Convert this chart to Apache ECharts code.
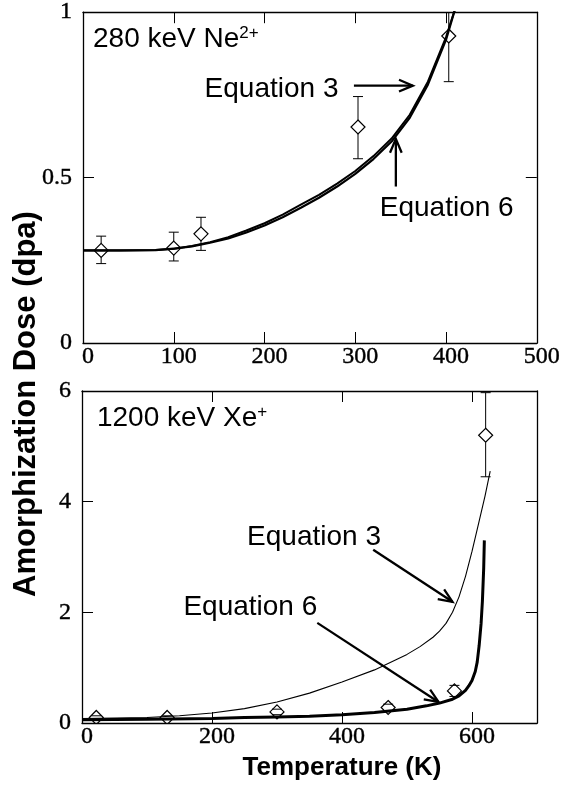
<!DOCTYPE html>
<html>
<head>
<meta charset="utf-8">
<script src="https://cdn.jsdelivr.net/npm/echarts@6/dist/echarts.min.js"></script>
<style>
html, body { margin: 0; padding: 0; background: #fff; }
#chart { width: 563px; height: 789px; }
</style>
</head>
<body>
<div id="chart"></div>
<script>
// top panel: 280 keV Ne2+
var neTemp = [20, 100, 130, 303, 403];
var neDose = [0.28, 0.287, 0.33, 0.653, 0.928];
var neLow = [0.24, 0.248, 0.28, 0.557, 0.79];
var neHigh = [0.323, 0.335, 0.38, 0.745, 1.07];

var neEq3Temp = [0, 40, 80, 100, 120, 140, 160, 180, 200, 220, 240, 260, 280, 300, 320, 340, 360, 380, 400, 410];
var neEq3Dose = [0.28, 0.28, 0.281, 0.285, 0.293, 0.305, 0.32, 0.34, 0.362, 0.388, 0.418, 0.448, 0.482, 0.52, 0.565, 0.618, 0.69, 0.79, 0.925, 1.01];
var neEq6Temp = [0, 40, 80, 100, 120, 140, 160, 180, 200, 220, 240, 260, 280, 300, 320, 340, 360, 380, 400, 410];
var neEq6Dose = [0.28, 0.28, 0.281, 0.285, 0.292, 0.303, 0.316, 0.334, 0.355, 0.38, 0.409, 0.439, 0.473, 0.511, 0.556, 0.609, 0.681, 0.781, 0.917, 1.01];

// bottom panel: 1200 keV Xe+
var xeTemp = [22, 131, 300, 471, 573, 621];
var xeDose = [0.1, 0.1, 0.2, 0.28, 0.58, 5.2];
var xeLow = [0.07, 0.07, 0.15, 0.22, 0.48, 4.45];
var xeHigh = [0.13, 0.13, 0.25, 0.34, 0.68, 5.97];

var xeEq3Temp = [0, 50, 100, 150, 200, 250, 300, 350, 400, 450, 500, 520, 540, 550, 560, 570, 580, 590, 600, 610, 620, 628];
var xeEq3Dose = [0.08, 0.09, 0.1, 0.13, 0.18, 0.26, 0.38, 0.54, 0.74, 0.96, 1.24, 1.38, 1.55, 1.66, 1.8, 2.0, 2.28, 2.65, 3.1, 3.6, 4.1, 4.55];
var xeEq6Temp = [0, 100, 200, 250, 300, 350, 400, 450, 500, 530, 550, 570, 580, 590, 595, 600, 605, 608, 611, 614, 616, 618, 619];
var xeEq6Dose = [0.06, 0.07, 0.08, 0.1, 0.11, 0.12, 0.15, 0.19, 0.25, 0.31, 0.36, 0.43, 0.49, 0.59, 0.67, 0.77, 0.93, 1.1, 1.4, 1.8, 2.2, 2.8, 3.3];

// annotations (data coords)
var neNoteText = ['{m|280 keV Ne}{s|2+}', 'Equation 3', 'Equation 6'];
var neNoteTemp = [11, 134, 327];
var neNoteDose = [0.919, 0.766, 0.407];
var xeNoteText = ['{m|1200 keV Xe}{s|+}', 'Equation 3', 'Equation 6'];
var xeNoteTemp = [23, 254, 156];
var xeNoteDose = [5.51, 3.36, 2.10];

// arrows [fromT, fromD, toT, toD]
var neArrows = [[298.5, 0.778, 363.4, 0.778], [344.7, 0.473, 344.7, 0.617]];
var xeArrows = [[448, 3.13, 570, 2.19], [362, 1.81, 548.5, 0.38]];

function zip(a, b) {
    var out = [];
    for (var i = 0; i < a.length; i++) out.push([a[i], b[i]]);
    return out;
}
function zip4(a, b, c, d) {
    var out = [];
    for (var i = 0; i < a.length; i++) out.push([a[i], b[i], c[i], d[i]]);
    return out;
}

var serif = 'Liberation Serif';
var sans = 'Liberation Sans';

function xAxis(grid, max, interval, pos) {
    var bottom = pos === 'bottom';
    return {
        type: 'value', gridIndex: grid, min: 0, max: max, interval: interval, position: pos,
        axisLine: { show: true, onZero: false, lineStyle: { color: '#000', width: 1.3 } },
        axisTick: { show: true, inside: true, length: 11, lineStyle: { color: '#000', width: 1 } },
        axisLabel: { show: bottom, color: '#000', fontFamily: serif, fontSize: 24, margin: 2,
            textBorderColor: '#000', textBorderWidth: 0.4,
            padding: [0, 0, 0, 10], showMaxLabel: max === 500 },
        splitLine: { show: false }
    };
}
function yAxis(grid, max, interval, pos) {
    var left = pos === 'left';
    return {
        type: 'value', gridIndex: grid, min: 0, max: max, interval: interval, position: pos,
        axisLine: { show: true, onZero: false, lineStyle: { color: '#000', width: 1.3 } },
        axisTick: { show: true, inside: true, length: 11, lineStyle: { color: '#000', width: 1 } },
        axisLabel: { show: left, color: '#000', fontFamily: serif, fontSize: 24, margin: 11,
            textBorderColor: '#000', textBorderWidth: 0.4,
            padding: [9, 0, 0, 0] },
        splitLine: { show: false }
    };
}

function renderPoint(params, api) {
    var c = api.coord([api.value(0), api.value(1)]);
    var lo = api.coord([api.value(0), api.value(2)]);
    var hi = api.coord([api.value(0), api.value(3)]);
    var s = 7, cap = 5;
    var st = { stroke: '#000', lineWidth: 1 };
    var kids = [];
    if (lo[1] > c[1] + s) kids.push({ type: 'line', shape: { x1: c[0], y1: c[1] + s, x2: lo[0], y2: lo[1] }, style: st });
    if (hi[1] < c[1] - s) kids.push({ type: 'line', shape: { x1: c[0], y1: c[1] - s, x2: hi[0], y2: hi[1] }, style: st });
    kids.push({ type: 'line', shape: { x1: lo[0] - cap, y1: lo[1], x2: lo[0] + cap, y2: lo[1] }, style: st });
    kids.push({ type: 'line', shape: { x1: hi[0] - cap, y1: hi[1], x2: hi[0] + cap, y2: hi[1] }, style: st });
    kids.push({ type: 'polygon', shape: { points: [[c[0], c[1] - s], [c[0] + s, c[1]], [c[0], c[1] + s], [c[0] - s, c[1]]] },
        style: { fill: 'none', stroke: '#000', lineWidth: 1.2 } });
    return { type: 'group', children: kids };
}

function renderArrow(params, api) {
    var a = api.coord([api.value(0), api.value(1)]);
    var b = api.coord([api.value(2), api.value(3)]);
    var ang = Math.atan2(b[1] - a[1], b[0] - a[0]);
    var L = 15, h = 0.4;
    var p1 = [b[0] - L * Math.cos(ang - h), b[1] - L * Math.sin(ang - h)];
    var p2 = [b[0] - L * Math.cos(ang + h), b[1] - L * Math.sin(ang + h)];
    var st = { stroke: '#000', lineWidth: 2.3, fill: 'none' };
    return { type: 'group', children: [
        { type: 'line', shape: { x1: a[0], y1: a[1], x2: b[0], y2: b[1] }, style: st },
        { type: 'polyline', shape: { points: [p1, b, p2] }, style: st }
    ] };
}

function noteRenderer(texts) {
    return function (params, api) {
        var p = api.coord([api.value(0), api.value(1)]);
        return {
            type: 'text', x: p[0], y: p[1],
            style: {
                text: texts[params.dataIndex], fill: '#000',
                fontFamily: sans, fontSize: 28, align: 'left', verticalAlign: 'middle',
                rich: {
                    m: { fontFamily: sans, fontSize: 28, fill: '#000' },
                    s: { fontFamily: sans, fontSize: 17, fill: '#000', verticalAlign: 'top' }
                }
            }
        };
    };
}

var chart = echarts.init(document.getElementById('chart'));
chart.setOption({
    animation: false,
    backgroundColor: '#fff',
    grid: [
        { left: 83, top: 9, width: 454, height: 334 },
        { left: 82, top: 391, width: 455, height: 332 }
    ],
    xAxis: [
        xAxis(0, 500, 100, 'bottom'), xAxis(0, 500, 100, 'top'),
        xAxis(1, 700, 200, 'bottom'), xAxis(1, 700, 200, 'top')
    ],
    yAxis: [
        yAxis(0, 1, 0.5, 'left'), yAxis(0, 1, 0.5, 'right'),
        yAxis(1, 6, 2, 'left'), yAxis(1, 6, 2, 'right')
    ],
    graphic: [
        { type: 'text', x: 26, y: 404, rotation: Math.PI / 2,
          style: { text: 'Amorphization Dose (dpa)', font: 'bold 31px ' + sans, fill: '#000', align: 'center', verticalAlign: 'middle' } },
        { type: 'text', x: 342, y: 768,
          style: { text: 'Temperature (K)', font: 'bold 26px ' + sans, fill: '#000', align: 'center', verticalAlign: 'middle' } }
    ],
    series: [
        { type: 'line', name: 'Equation 3', xAxisIndex: 0, yAxisIndex: 0, data: zip(neEq3Temp, neEq3Dose),
          showSymbol: false, lineStyle: { color: '#000', width: 2 } },
        { type: 'line', name: 'Equation 6', xAxisIndex: 0, yAxisIndex: 0, data: zip(neEq6Temp, neEq6Dose),
          showSymbol: false, lineStyle: { color: '#000', width: 2.2 } },
        { type: 'custom', xAxisIndex: 0, yAxisIndex: 0, clip: true, renderItem: renderPoint,
          data: zip4(neTemp, neDose, neLow, neHigh) },
        { type: 'custom', xAxisIndex: 0, yAxisIndex: 0, renderItem: renderArrow, data: neArrows },
        { type: 'custom', xAxisIndex: 0, yAxisIndex: 0, renderItem: noteRenderer(neNoteText),
          data: zip(neNoteTemp, neNoteDose) },

        { type: 'line', name: 'Equation 3', xAxisIndex: 2, yAxisIndex: 2, data: zip(xeEq3Temp, xeEq3Dose),
          showSymbol: false, lineStyle: { color: '#000', width: 1.1 } },
        { type: 'line', name: 'Equation 6', xAxisIndex: 2, yAxisIndex: 2, data: zip(xeEq6Temp, xeEq6Dose),
          showSymbol: false, lineStyle: { color: '#000', width: 3 } },
        { type: 'custom', xAxisIndex: 2, yAxisIndex: 2, clip: true, renderItem: renderPoint,
          data: zip4(xeTemp, xeDose, xeLow, xeHigh) },
        { type: 'custom', xAxisIndex: 2, yAxisIndex: 2, renderItem: renderArrow, data: xeArrows },
        { type: 'custom', xAxisIndex: 2, yAxisIndex: 2, renderItem: noteRenderer(xeNoteText),
          data: zip(xeNoteTemp, xeNoteDose) }
    ]
});
</script>
</body>
</html>
